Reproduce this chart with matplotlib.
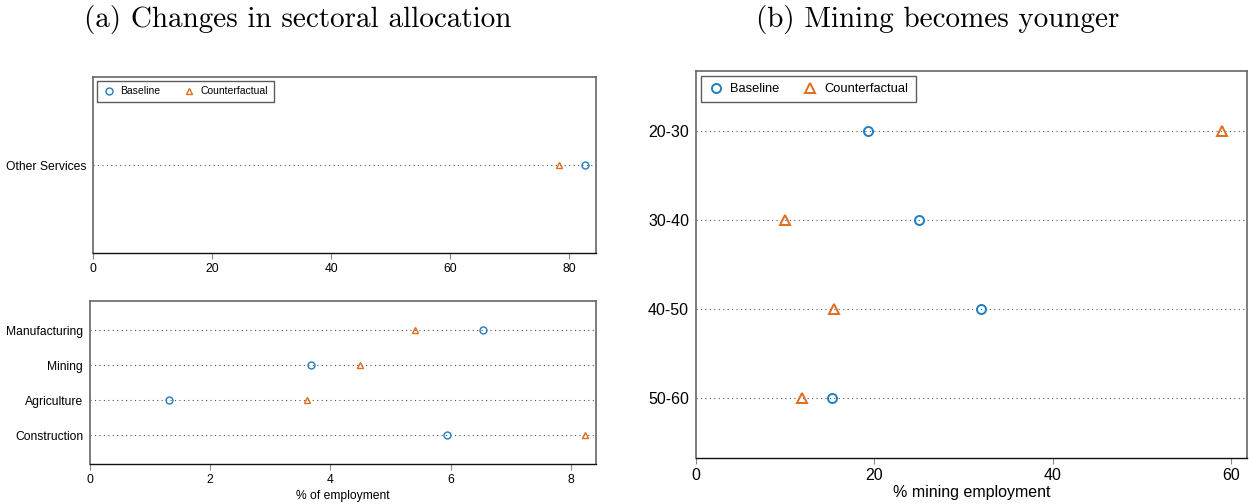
import matplotlib
matplotlib.use("Agg")
import matplotlib.pyplot as plt
import numpy as np

# panel (a) top: large sector
top_sector = ["Other Services"]
top_base = [82.6]
top_cf = [78.3]

# panel (a) bottom: small sectors (top to bottom)
sectors = ["Manufacturing", "Mining", "Agriculture", "Construction"]
sec_base = [6.54, 3.68, 1.31, 5.94]
sec_cf = [5.40, 4.49, 3.61, 8.23]

# panel (b): mining employment by age group
ages = ["20-30", "30-40", "40-50", "50-60"]
age_base = [19.3, 25.0, 32.0, 15.3]
age_cf = [59.0, 10.0, 15.5, 11.9]

BLUE = "#1f7fc2"
ORANGE = "#e26c1c"
plt.rcParams["font.family"] = ["Liberation Sans", "DejaVu Sans"]

fig = plt.figure(figsize=(12.49, 5.04), dpi=100)
ax1 = fig.add_axes([0.0745, 0.498, 0.4027, 0.349])
ax2 = fig.add_axes([0.0721, 0.0794, 0.4051, 0.3224])
ax3 = fig.add_axes([0.5572, 0.0913, 0.4412, 0.7679])


def dotplot(ax, labels, base, cf, ms, fs, mew):
    y = np.arange(len(labels), 0, -1)
    for yy in y:
        ax.axhline(yy, color="#555555", linestyle=(0, (1, 3)), linewidth=0.8, zorder=1)
    ax.plot(base, y, linestyle="none", marker="o", ms=ms, mfc="none", mec=BLUE,
            mew=mew, label="Baseline", zorder=3)
    ax.plot(cf, y, linestyle="none", marker="^", ms=ms, mfc="none", mec=ORANGE,
            mew=mew, label="Counterfactual", zorder=3)
    ax.set_yticks(y)
    ax.set_yticklabels(labels, fontsize=fs)
    ax.tick_params(axis="y", length=0, pad=5)
    ax.tick_params(axis="x", direction="out", length=4, color="#888888",
                   labelsize=fs, pad=3)
    for s in ["top", "right", "left"]:
        ax.spines[s].set_color("#666666")
        ax.spines[s].set_linewidth(1.2)
    ax.spines["bottom"].set_color("#111111")
    ax.spines["bottom"].set_linewidth(1.0)
    return y


y1 = dotplot(ax1, top_sector, top_base, top_cf, 5, 8.7, 1.0)
ax1.set_xlim(0, 84.5)
ax1.set_ylim(0, 2)
ax1.set_xticks([0, 20, 40, 60, 80])
ax1.legend(loc="upper left", ncol=2, fontsize=7.5, frameon=True, fancybox=False,
           edgecolor="#333333", borderaxespad=0.4, handletextpad=0.5,
           columnspacing=2.2, handlelength=1.2, borderpad=0.5)

dotplot(ax2, sectors, sec_base, sec_cf, 5, 8.7, 1.0)
ax2.set_xlim(0, 8.42)
ax2.set_ylim(0.17, 4.83)
ax2.set_xticks([0, 2, 4, 6, 8])
ax2.set_xlabel("% of employment", fontsize=8.7, labelpad=3)

dotplot(ax3, ages, age_base, age_cf, 6.5, 11.5, 1.4)
ax3.set_xlim(0, 61.8)
ax3.set_ylim(0.33, 4.67)
ax3.set_xticks([0, 20, 40, 60])
ax3.set_xlabel("% mining employment", fontsize=11.5, labelpad=2)
ax3.legend(loc="upper left", ncol=2, fontsize=9.3, frameon=True, fancybox=False,
           edgecolor="#333333", borderaxespad=0.4, handletextpad=0.5,
           columnspacing=1.8, handlelength=1.2, borderpad=0.55)

for leg in [ax1.get_legend(), ax3.get_legend()]:
    leg.get_frame().set_linewidth(1.0)

fig.text(0.2385, 0.962, "(a) Changes in sectoral allocation", fontsize=21,
         family="cmr10", ha="center", va="center")
fig.text(0.751, 0.962, "(b) Mining becomes younger", fontsize=21,
         family="cmr10", ha="center", va="center")

fig.savefig("out.png", dpi=100)
